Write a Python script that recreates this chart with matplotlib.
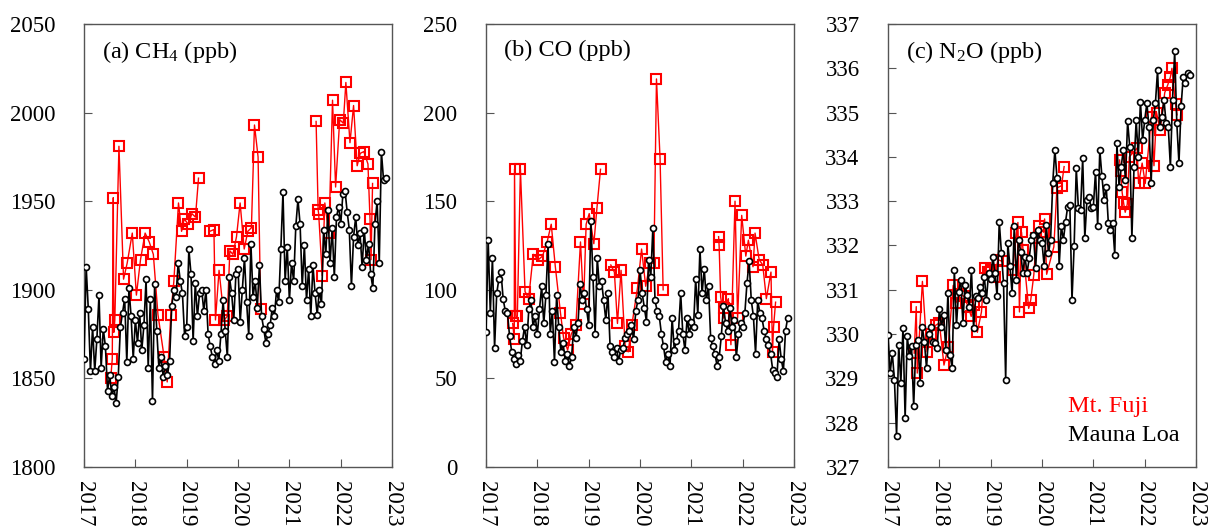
import matplotlib
matplotlib.use("Agg")
import matplotlib.pyplot as plt
import numpy as np

plt.rcParams['font.family'] = ['Liberation Serif', 'DejaVu Serif']
plt.rcParams['mathtext.fontset'] = 'custom'
plt.rcParams['mathtext.rm'] = 'Liberation Serif'
plt.rcParams['mathtext.it'] = 'Liberation Serif:italic'

# Mauna Loa: twice-monthly samples starting Jan 2017
mlo_dates = 2017.0 + np.arange(142) / 24.0

mlo_ch4 = [
    1861, 1913, 1889, 1854, 1879, 1854, 1872, 1897, 1856, 1878, 1868, 1843,
    1852, 1840, 1845, 1836, 1851, 1879, 1887, 1895, 1859, 1901, 1885, 1861,
    1883, 1870, 1887, 1866, 1880, 1906, 1856, 1895, 1837, 1903, 1877, 1856,
    1862, 1851, 1857, 1852, 1860, 1891, 1900, 1896, 1915, 1905, 1898, 1874,
    1879, 1923, 1909, 1871, 1904, 1885, 1898, 1900, 1888, 1900, 1875, 1868,
    1862, 1858, 1866, 1860, 1875, 1894, 1877, 1862, 1907, 1898, 1883, 1909,
    1912, 1882, 1900, 1918, 1893, 1874, 1926, 1896, 1905, 1890, 1914, 1885,
    1878, 1870, 1875, 1880, 1890, 1885, 1900, 1893, 1923, 1955, 1905, 1924,
    1894, 1915, 1905, 1936, 1951, 1937, 1902, 1925, 1894, 1912, 1885, 1914,
    1898, 1886, 1900, 1892, 1934, 1920, 1945, 1915, 1935, 1907, 1941, 1947,
    1937, 1954, 1956, 1944, 1934, 1902, 1930, 1941, 1925, 1932, 1913, 1934,
    1917, 1926, 1909, 1901, 1937, 1950, 1915, 1978, 1962, 1963,
]

mlo_co = [
    76, 128, 87, 118, 67, 98, 106, 110, 95, 88, 87, 74,
    65, 61, 58, 63, 60, 71, 79, 69, 89, 94, 79, 85,
    75, 89, 102, 81, 97, 126, 75, 88, 59, 97, 79, 65,
    70, 60, 64, 57, 62, 79, 73, 81, 103, 94, 98, 89,
    80, 139, 107, 75, 118, 102, 105, 94, 83, 98, 68, 65,
    62, 67, 60, 66, 67, 73, 75, 77, 80, 72, 88, 94,
    111, 98, 90, 82, 117, 107, 135, 94, 88, 85, 75, 68,
    59, 64, 57, 84, 66, 71, 77, 98, 75, 66, 84, 75,
    82, 79, 106, 86, 123, 98, 112, 94, 102, 73, 68, 64,
    57, 62, 74, 91, 81, 77, 90, 79, 83, 62, 75, 81,
    79, 87, 104, 116, 94, 85, 64, 94, 87, 84, 77, 72,
    69, 64, 55, 53, 51, 72, 61, 54, 77, 84,
]

mlo_n2o = [
    329.98, 329.12, 329.57, 328.97, 327.71, 329.76, 328.90, 330.14, 328.10, 329.95, 329.50, 329.72,
    328.37, 329.76, 329.87, 328.90, 330.17, 329.83, 329.23, 330.00, 330.17, 329.83, 329.80, 329.68,
    330.56, 330.17, 330.44, 329.65, 330.92, 329.53, 329.23, 331.45, 330.20, 330.96, 331.23, 330.25,
    331.11, 330.89, 330.62, 331.45, 330.14, 330.85, 330.81, 331.07, 330.92, 331.30, 330.77, 331.38,
    331.24, 331.75, 331.38, 330.85, 332.54, 331.83, 331.15, 328.97, 332.05, 331.53, 330.92, 332.43,
    331.23, 332.13, 331.86, 331.38, 331.75, 331.38, 331.71, 332.13, 332.24, 331.49, 332.35, 332.13,
    332.05, 331.53, 332.47, 331.83, 332.13, 333.41, 334.16, 333.52, 331.53, 332.43, 332.13, 332.54,
    332.88, 332.92, 330.77, 331.98, 333.74, 332.84, 332.80, 333.97, 332.17, 333.03, 333.10, 332.84,
    332.88, 333.67, 332.43, 334.16, 333.56, 333.03, 333.33, 332.50, 332.35, 332.50, 331.79, 334.31,
    333.33, 333.78, 334.16, 333.48, 334.80, 334.23, 332.17, 333.78, 334.83, 334.00, 335.25, 334.38,
    334.83, 335.21, 334.68, 333.41, 334.83, 335.21, 335.96, 334.68, 334.91, 335.29, 334.76, 334.68,
    333.78, 335.29, 336.38, 334.76, 333.86, 335.14, 335.81, 335.66, 335.89, 335.85,
]

# Mt. Fuji (summer-to-spring campaigns; None marks a break in the record)
fuji_ch4_dates = [
    2017.52, 2017.55, 2017.57, 2017.58, 2017.60, 2017.68, 2017.77, 2017.84, 2017.94, 2018.02,
    2018.10, 2018.19, 2018.27, 2018.35, 2018.44, 2018.56, 2018.62, 2018.69, 2018.75, 2018.84,
    2018.90, 2018.95, 2019.03, 2019.10, 2019.17, 2019.23, 2019.34, 2019.45, 2019.53, 2019.56, 2019.63,
    2019.73, 2019.79, 2019.84, 2019.90, 2019.97, 2020.04, 2020.12, 2020.19, 2020.26, 2020.32,
    2020.39, 2020.44, 2021.00, 2021.52, 2021.56, 2021.57, 2021.64, 2021.69, 2021.77, 2021.84, 2021.90,
    2021.98, 2022.05, 2022.10, 2022.18, 2022.25, 2022.32, 2022.38, 2022.45, 2022.53, 2022.57,
    2022.59, 2022.62,
]
fuji_ch4 = [
    1850, 1861, 1952, 1876, 1883, 1981, 1906, 1915, 1932, 1897,
    1917, 1932, 1927, 1920, 1886, 1862, 1848, 1886, 1905, 1949,
    1933, 1940, 1937, 1943, 1941, 1963, None, 1933, 1934, 1883, 1911,
    1883, 1885, 1922, 1920, 1930, 1949, 1923, 1933, 1935, 1993,
    1975, 1889, None, 1995, 1945, 1943, 1908, 1949, 1932, 2007, 1958,
    1996, 1994, 2017, 1983, 2004, 1970, 1977, 1978, 1971, 1940,
    1917, 1960,
]

fuji_co_dates = [
    2017.52, 2017.55, 2017.555, 2017.58, 2017.61, 2017.67, 2017.76, 2017.83, 2017.92, 2018.02,
    2018.10, 2018.19, 2018.27, 2018.35, 2018.45, 2018.51, 2018.59, 2018.66, 2018.75, 2018.84,
    2018.90, 2018.95, 2019.01, 2019.10, 2019.16, 2019.23, 2019.33, 2019.43, 2019.50, 2019.56, 2019.63,
    2019.71, 2019.77, 2019.84, 2019.95, 2020.03, 2020.11, 2020.19, 2020.27, 2020.32, 2020.39,
    2020.45, 2021.00, 2021.53, 2021.54, 2021.57, 2021.63, 2021.64, 2021.72, 2021.77, 2021.85, 2021.90,
    2021.98, 2022.06, 2022.11, 2022.20, 2022.24, 2022.32, 2022.39, 2022.46, 2022.55, 2022.58,
    2022.60, 2022.64,
]
fuji_co = [
    81, 72, 168, 85, 85, 168, 99, 95, 120, 117,
    119, 127, 137, 113, 87, 73, 66, 75, 80, 127,
    92, 137, 143, 126, 146, 168, None, 114, 110, 81, 111,
    68, 65, 80, 101, 123, 102, 115, 115, 219, 174,
    100, None, 130, 125, 96, 84, 90, 95, 69, 150, 84,
    142, 119, 128, 113, 132, 117, 114, 95, 110, 65,
    79, 93,
]

fuji_n2o_dates = [
    2017.51, 2017.55, 2017.57, 2017.67, 2017.76, 2017.84, 2017.93, 2018.00, 2018.09, 2018.17,
    2018.27, 2018.32, 2018.40, 2018.48, 2018.56, 2018.62, 2018.68, 2018.74, 2018.82, 2018.88,
    2018.95, 2019.01, 2019.08, 2019.14, 2019.23, 2019.33, 2019.43, 2019.50, 2019.53, 2019.56, 2019.60,
    2019.63, 2019.74, 2019.78, 2019.84, 2019.89, 2019.95, 2020.03, 2020.05, 2020.09, 2020.23,
    2020.29, 2020.38, 2020.43, 2021.00, 2021.51, 2021.53, 2021.56, 2021.59, 2021.62, 2021.66, 2021.70,
    2021.85, 2021.88, 2021.95, 2022.01, 2022.13, 2022.18, 2022.23, 2022.30, 2022.39, 2022.45,
    2022.50, 2022.53, 2022.60, 2022.63,
]
fuji_n2o = [
    329.57, 330.62, 329.12, 331.19, 329.60, 330.00, 330.20, 330.25, 329.30, 329.70,
    331.10, 330.70, 330.90, 330.85, 330.62, 330.40, 330.66, 330.04, 330.50, 331.50,
    331.40, 331.45, 331.30, 331.68, 331.64, None, 331.45, 332.28, 332.52, 330.50, 332.30,
    331.90, 330.58, 330.77, 331.34, 332.17, 332.43, 332.30, 332.60, 331.35, 331.97,
    333.30, 333.35, 333.78, None, 333.93, 333.68, 333.20, 332.95, 332.75, 332.93, 334.00,
    334.20, 333.40, 333.86, 333.40, 334.90, 333.80, 335.00, 334.60, 335.45, 335.63,
    335.80, 336.00, 335.20, 334.95,
]

panels = [
    ("(a) CH$_4$ (ppb)", fuji_ch4_dates, fuji_ch4, mlo_ch4, (1800, 2050), np.arange(1800, 2051, 50)),
    ("(b) CO (ppb)", fuji_co_dates, fuji_co, mlo_co, (0, 250), np.arange(0, 251, 50)),
    ("(c) N$_2$O (ppb)", fuji_n2o_dates, fuji_n2o, mlo_n2o, (327, 337), np.arange(327, 338, 1)),
]
lefts = [0.0695, 0.402, 0.7345]

fig = plt.figure(figsize=(12.09, 5.32), dpi=100)

for left, (title, fdates, fvals, mvals, ylim, yticks) in zip(lefts, panels):
    ax = fig.add_axes([left, 0.1222, 0.2548, 0.8327])
    fvals = np.array([np.nan if v is None else v for v in fvals], dtype=float)
    ax.plot(fdates, fvals, color='red', lw=1.0, marker='s', markersize=7.5,
            markerfacecolor='none', markeredgecolor='red', markeredgewidth=1.5, zorder=2)
    ax.plot(mlo_dates, mvals, color='black', lw=1.2, marker='o', markersize=4.3,
            markerfacecolor='white', markeredgecolor='black', markeredgewidth=1.2,
            zorder=3)
    ax.set_xlim(2017, 2023)
    ax.set_ylim(*ylim)
    ax.set_yticks(yticks)
    ax.set_xticks(np.arange(2017, 2024))
    ax.set_xticklabels([str(y) for y in range(2017, 2024)], rotation=270)
    ax.tick_params(axis='y', direction='in', length=6, labelsize=16.5, pad=20.5,
                   left=True, right=False, color='#555555')
    ax.tick_params(axis='x', direction='in', length=6, labelsize=16.5, pad=10,
                   bottom=True, top=False, color='#555555')
    for sp in ax.spines.values():
        sp.set_color('#555555')
        sp.set_linewidth(1.0)
    ax.text(0.058, 0.965, title, transform=ax.transAxes, fontsize=17.5,
            va='top', ha='left')

ax.text(0.584, 0.125, "Mt. Fuji", color='red', transform=ax.transAxes, fontsize=17.5)
ax.text(0.584, 0.058, "Mauna Loa", color='black', transform=ax.transAxes, fontsize=17.5)

fig.savefig("out.png", dpi=100)
